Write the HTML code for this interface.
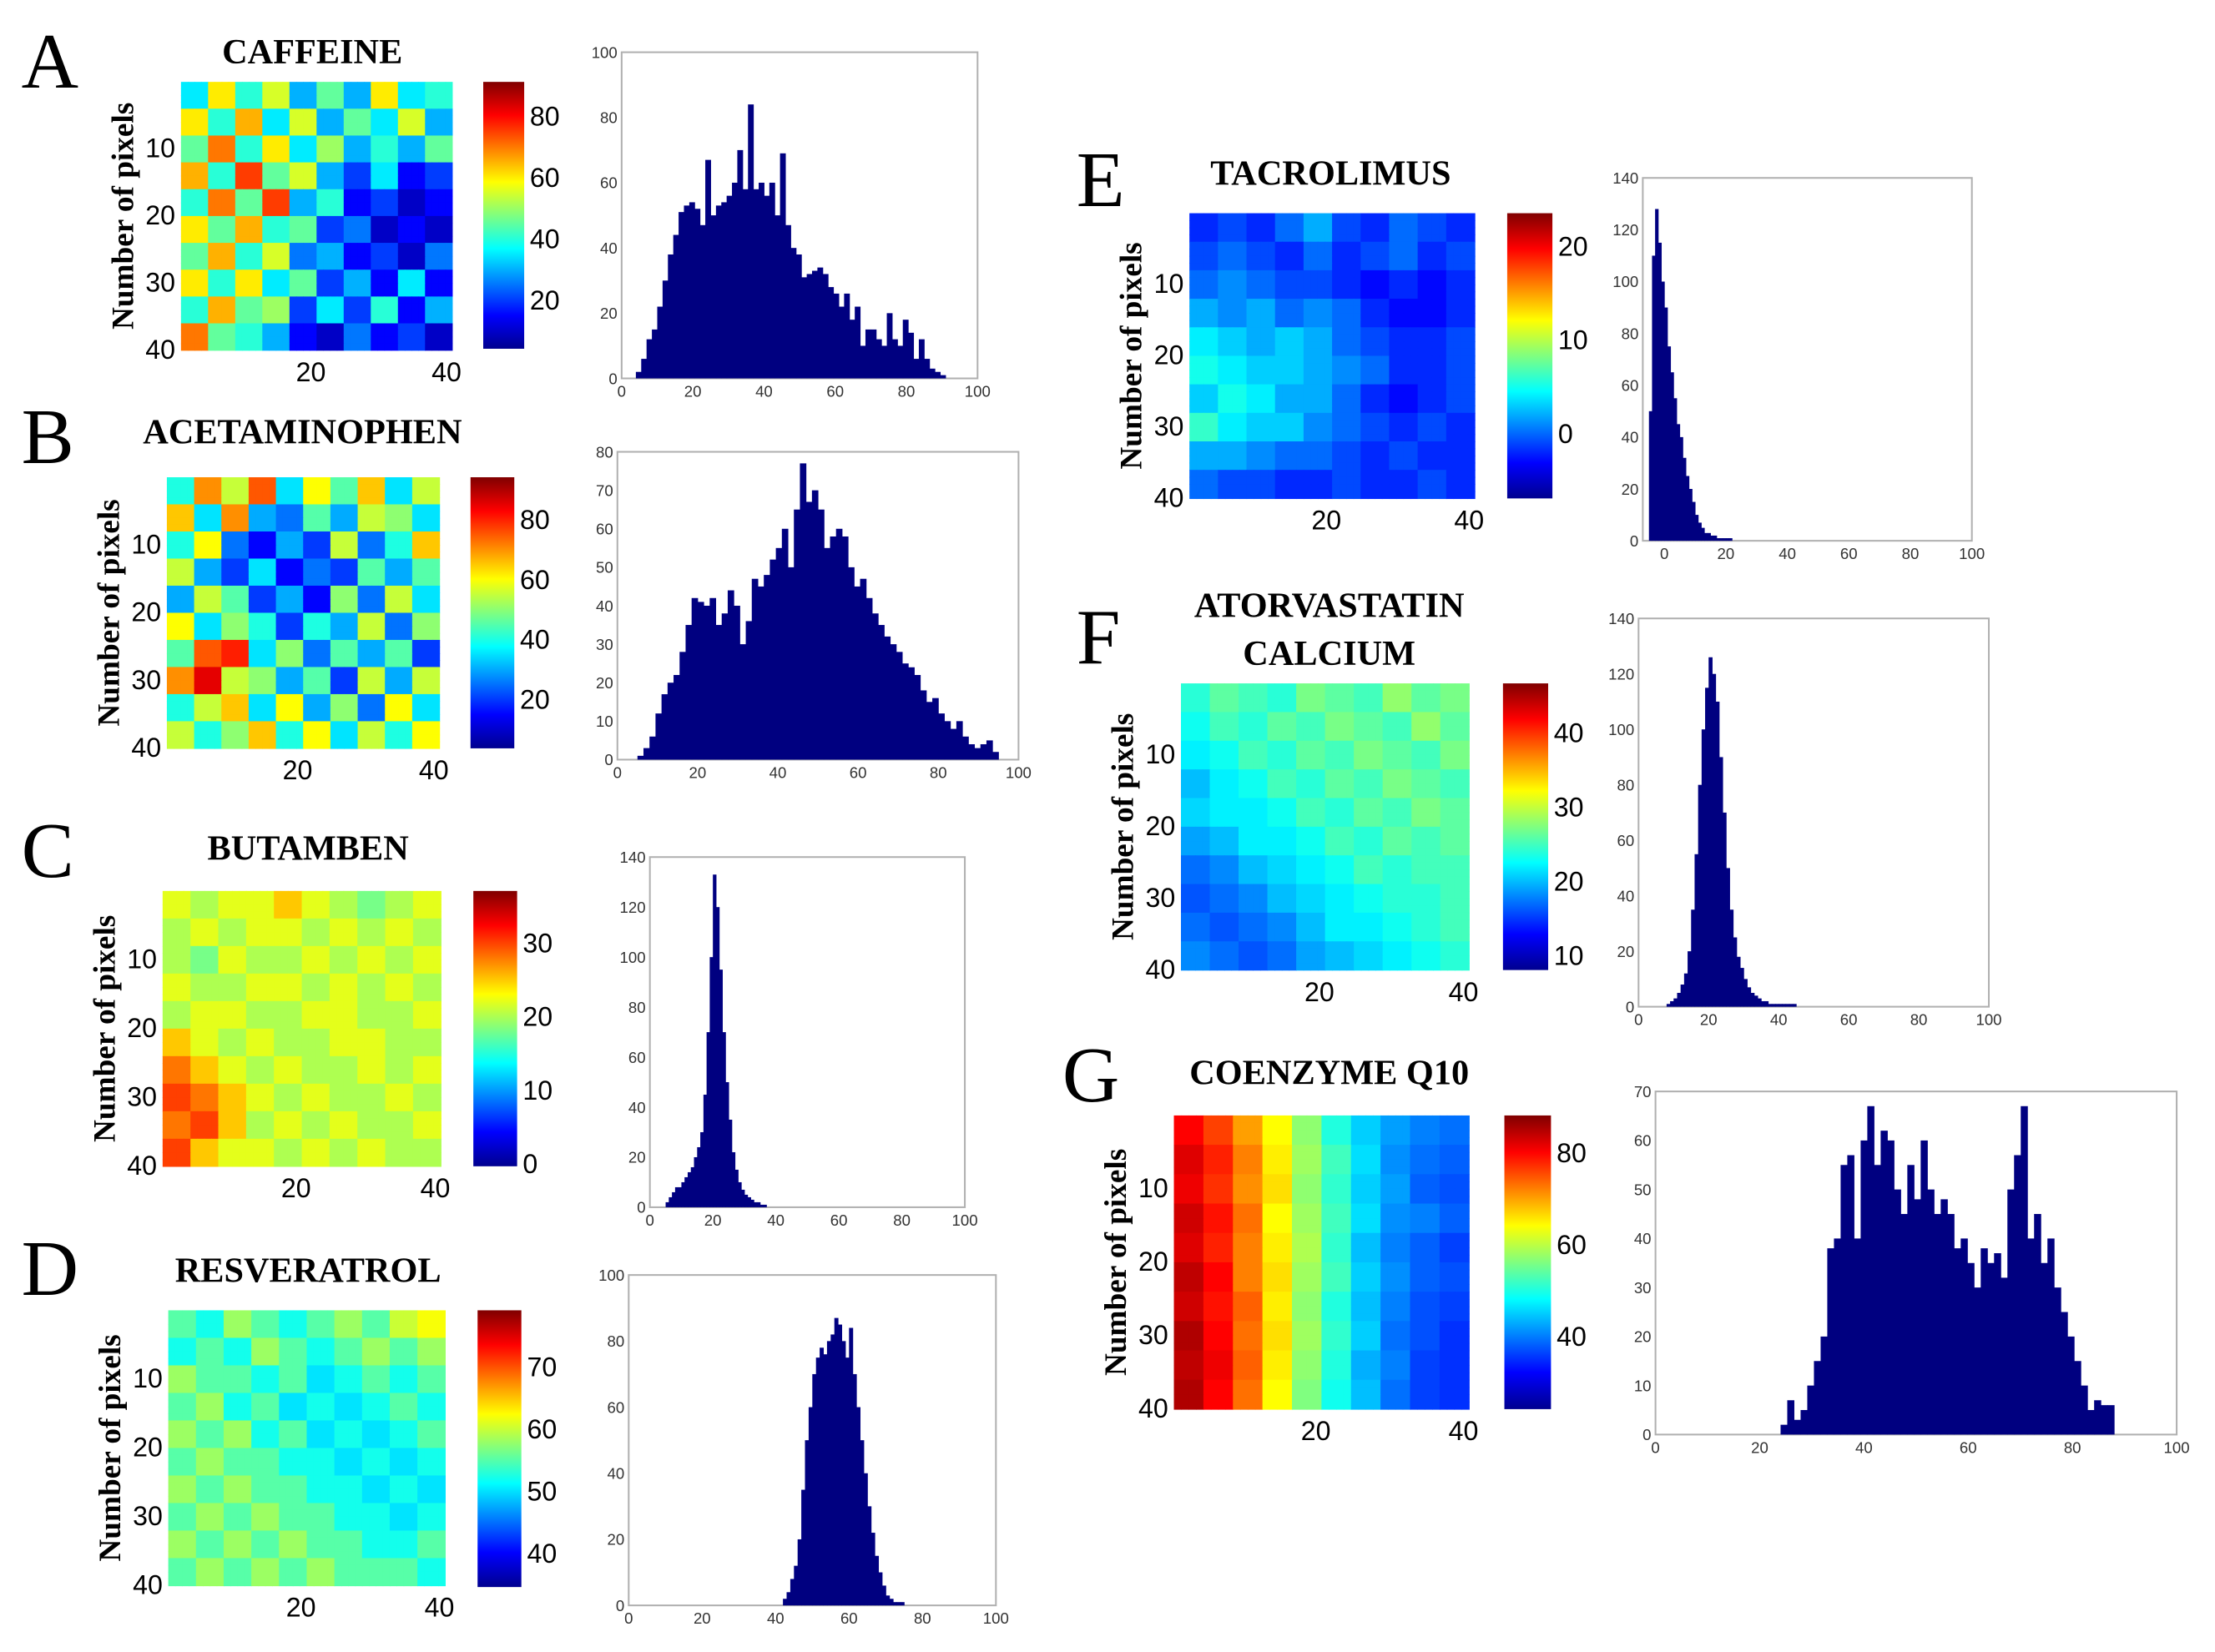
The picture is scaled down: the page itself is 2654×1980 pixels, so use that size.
<!DOCTYPE html>
<html><head><meta charset="utf-8"><style>
html,body{margin:0;padding:0;background:#fff;}
svg{display:block;}
</style></head><body>
<svg id="fig" xmlns="http://www.w3.org/2000/svg" width="2654" height="1980" viewBox="0 0 1568 1170">
<defs>
<linearGradient id="jet" x1="0" y1="1" x2="0" y2="0">
<stop offset="0" stop-color="#00008f"/><stop offset="0.125" stop-color="#0000ff"/><stop offset="0.375" stop-color="#00ffff"/><stop offset="0.625" stop-color="#ffff00"/><stop offset="0.875" stop-color="#ff0000"/><stop offset="1" stop-color="#800000"/>
</linearGradient>
</defs>
</svg>
<script>
// ---------- DATA ----------
const heatA=[[35,60,40,55,30,45,30,60,35,40],[60,40,65,35,55,30,45,35,55,30],[45,70,40,60,35,50,30,40,30,45],[65,40,75,45,55,30,20,35,15,20],[40,70,45,75,30,40,15,20,10,15],[60,45,65,40,45,20,25,10,15,10],[45,65,40,55,25,30,15,20,10,25],[60,40,60,35,45,20,30,15,35,15],[40,65,45,50,20,35,20,40,15,30],[70,45,40,30,15,10,25,15,20,10]];
const heatB=[[40,70,55,75,35,60,45,65,35,55],[65,35,70,30,25,45,30,55,50,35],[40,60,25,15,30,20,55,25,40,65],[55,30,20,35,15,25,20,45,30,45],[30,55,45,20,30,15,50,25,55,35],[60,35,50,40,20,40,30,55,25,50],[45,75,80,35,50,25,45,30,45,20],[70,85,55,50,30,45,20,55,30,55],[40,55,65,35,60,30,50,25,60,35],[55,40,50,65,40,60,35,55,40,60]];
const heatC=[[22,20,22,22,25,22,20,18,20,22],[20,22,20,22,22,20,22,20,22,20],[20,18,22,20,20,22,20,22,20,22],[22,20,20,22,22,20,22,20,22,20],[20,22,22,20,20,22,22,20,20,22],[25,22,20,22,20,20,22,22,20,20],[28,25,22,20,22,20,20,22,20,22],[30,28,25,22,20,22,20,20,22,20],[28,30,25,20,22,20,22,20,20,22],[30,25,22,22,20,22,20,22,20,20]];
const heatD=[[55,52,58,55,52,55,58,55,60,62],[52,55,52,58,55,52,55,58,55,58],[58,55,55,52,55,50,52,55,52,55],[55,58,52,55,50,52,50,52,55,52],[58,55,58,52,55,50,52,50,52,55],[55,58,55,55,52,52,50,52,50,52],[58,55,58,55,55,52,52,50,52,50],[55,58,55,58,55,55,52,52,50,52],[58,55,58,55,58,55,55,52,52,55],[55,58,55,58,55,58,55,55,55,52]];
const heatE=[[-2,-1,-2,0,2,-1,-2,0,-1,-2],[-1,0,-1,-2,0,-2,-1,0,-2,-1],[0,1,0,-1,-1,-2,-3,-2,-3,-2],[2,1,2,0,1,0,-2,-3,-3,-2],[4,3,2,3,2,0,-1,-2,-2,-1],[5,4,3,3,2,1,0,-2,-2,-1],[3,5,4,2,2,0,-2,-3,-2,-1],[6,4,3,3,1,0,-1,-2,-1,-2],[2,2,1,0,0,-1,-2,-1,-2,-2],[0,-1,-1,-2,-2,-1,-2,-2,-1,-2]];
const heatF=[[24,26,25,24,27,26,25,28,26,27],[23,25,24,26,25,27,26,25,28,26],[22,23,25,24,26,25,27,26,25,27],[20,22,23,25,24,26,25,27,26,25],[21,22,22,23,25,24,26,25,27,26],[19,20,22,22,23,25,24,26,25,26],[17,18,20,21,22,23,25,24,25,25],[16,17,18,20,21,22,23,24,24,25],[17,16,17,18,20,22,22,23,24,25],[18,17,16,17,19,20,21,22,23,24]];
const heatG=[[80,76,70,64,57,50,45,42,40,39],[82,78,72,65,58,52,46,41,39,38],[81,77,71,66,57,51,45,42,38,37],[83,79,73,64,58,52,46,41,40,38],[82,78,72,65,59,51,44,40,38,36],[84,80,72,66,58,52,45,41,38,37],[83,79,74,65,57,50,44,40,37,36],[85,80,73,66,58,51,45,39,37,35],[84,81,74,65,57,50,43,40,36,35],[85,80,73,64,56,49,44,39,36,35]];

const histA=[2,6,12,15,22,30,38,44,51,53,54,52,47,67,50,53,54,56,60,70,58,84,58,60,56,60,50,69,47,40,38,31,32,33,34,32,28,26,22,26,18,22,10,15,15,12,10,20,12,10,18,14,6,12,6,3,2,1];
const histB=[1,3,6,12,17,20,22,28,35,42,41,40,42,35,38,44,40,30,36,47,45,48,52,55,60,50,65,77,67,70,65,55,58,60,58,50,45,47,42,38,35,32,30,28,25,24,22,18,15,16,12,10,8,10,6,4,3,4,5,2];
const histC=[2,4,6,8,8,10,12,14,16,20,24,30,45,70,100,133,120,95,70,50,35,22,15,10,7,5,4,3,2,2,1,1];
const histD=[2,4,8,12,20,35,50,60,70,75,78,76,80,82,87,85,80,75,84,70,60,50,40,30,22,15,10,6,3,2,1,1,1];
const histE=[50,110,128,115,100,90,75,65,55,45,40,32,25,20,15,10,7,5,3,3,2,2,1,1,1,1,1];
const histF=[1,2,3,5,8,12,20,35,55,80,100,115,126,120,110,90,70,50,35,25,18,14,10,7,5,4,3,2,2,1,1,1,1,1,1,1,1];
const histG=[2,7,3,5,10,15,20,38,40,55,57,40,60,67,55,62,60,50,45,55,48,60,50,45,48,45,38,40,35,30,38,35,37,32,50,57,67,40,45,35,40,30,25,20,15,10,5,7,6,6];

const heatTicks=[10,20,30,40];
const heatXTicks=[20,40];
const histXTicks=[0,20,40,60,80,100];

// ---------- LAYOUT ----------
const NS="http://www.w3.org/2000/svg";
const svg=document.getElementById('fig');
function el(tag,attrs,parent,text){const e=document.createElementNS(NS,tag);for(const k in attrs)e.setAttribute(k,attrs[k]);if(text!==undefined)e.textContent=text;(parent||svg).appendChild(e);return e;}
function jet(v){v=Math.max(0,Math.min(1,v));const c=x=>Math.round(255*Math.max(0,Math.min(1,1.5-Math.abs(4*v-x))));return `rgb(${c(3)},${c(2)},${c(1)})`;}

const panels=[
 {id:'a',letter:'A',lx:15,ly:62,title:['CAFFEINE'],tx:221,ty:45,hm:[128,58,192,190],heat:heatA,cb:[342,58,29,189],vmin:4,vmax:91,cbt:[20,40,60,80],hist:histA,hx:[440,37,252,231],ymax:100,ystep:20,xmin:0,x0:4,bw:1.5},
 {id:'b',letter:'B',lx:15,ly:328,title:['ACETAMINOPHEN'],tx:214,ty:314,hm:[118,338,193,192],heat:heatB,cb:[333,338,31,192],vmin:3.5,vmax:94,cbt:[20,40,60,80],hist:histB,hx:[437,320,284,218],ymax:80,ystep:10,xmin:0,x0:5,bw:1.5},
 {id:'c',letter:'C',lx:15,ly:621,title:['BUTAMBEN'],tx:218,ty:609,hm:[115,631,197,195],heat:heatC,cb:[335,631,31,195],vmin:-0.4,vmax:37,cbt:[0,10,20,30],hist:histC,hx:[460,607,223,248],ymax:140,ystep:20,xmin:0,x0:5,bw:1},
 {id:'d',letter:'D',lx:15,ly:917,title:['RESVERATROL'],tx:218,ty:908,hm:[119,928,196,195],heat:heatD,cb:[338,928,31,196],vmin:34.5,vmax:79,cbt:[40,50,60,70],hist:histD,hx:[445,903,260,234],ymax:100,ystep:20,xmin:0,x0:42,bw:1},
 {id:'e',letter:'E',lx:762,ly:146,title:['TACROLIMUS'],tx:942,ty:131,hm:[842,151,202,202],heat:heatE,cb:[1067,151,32,202],vmin:-7,vmax:23.5,cbt:[0,10,20],hist:histE,hx:[1163,126,233,257],ymax:140,ystep:20,xmin:-7,x0:-5,bw:1},
 {id:'f',letter:'F',lx:762,ly:470,title:['ATORVASTATIN','CALCIUM'],tx:941,ty:437,hm:[836,484,204,203],heat:heatF,cb:[1064,484,32,203],vmin:8,vmax:46.6,cbt:[10,20,30,40],hist:histF,hx:[1160,438,248,275],ymax:140,ystep:20,xmin:0,x0:8,bw:1},
 {id:'g',letter:'G',lx:752,ly:780,title:['COENZYME Q10'],tx:941,ty:768,hm:[831,790,209,208],heat:heatG,cb:[1065,790,33,208],vmin:24,vmax:88,cbt:[40,60,80],hist:histG,hx:[1172,773,369,243],ymax:70,ystep:10,xmin:0,x0:24,bw:1.28}
];

const serif='"Liberation Serif", serif', sans='"Liberation Sans", sans-serif';

panels.forEach(p=>{
 const g=el('g',{});
 
 
 const L=el('text',{x:p.lx,y:p.ly,'font-family':serif,'font-size':56},g,p.letter);
 
 
 p.title.forEach((t,i)=>{
  const T=el('text',{x:p.tx,y:p.ty+i*34,'text-anchor':'middle','font-family':serif,'font-weight':'bold','font-size':25},g,t);
  
  
 });
 const [hx,hy,hw,hh]=p.hm;
 const hg=el('g',{},g);
 
 
 const n=40,cw=hw/n,ch=hh/n;
 for(let r=0;r<n;r++)for(let c=0;c<n;c++){
  const v=p.heat[Math.floor(r/4)][Math.floor(c/4)];
  const cell=el('rect',{x:hx+c*cw,y:hy+r*ch,width:cw+0.4,height:ch+0.4,fill:jet((v-p.vmin)/(p.vmax-p.vmin))},hg);
  
  
 }
 heatTicks.forEach(t=>{
  const tt=el('text',{x:hx-4,y:hy+t/40*hh+6,'text-anchor':'end','font-family':sans,'font-size':19},g,String(t));
  
  
 });
 heatXTicks.forEach(t=>{
  const tt=el('text',{x:hx+t/40*hw-4,y:hy+hh+22,'text-anchor':'middle','font-family':sans,'font-size':19},g,String(t));
  
  
 });
 const yl=el('text',{transform:`translate(${hx-34},${hy+hh/2}) rotate(-90)`,'text-anchor':'middle','font-family':serif,'font-weight':'bold','font-size':22},g,'Number of pixels');
 
 
 const [cx,cy,cwid,chh]=p.cb;
 const cb=el('rect',{x:cx,y:cy,width:cwid,height:chh,fill:'url(#jet)'},g);
 
 
 p.cbt.forEach(t=>{
  const ty=cy+chh-(t-p.vmin)/(p.vmax-p.vmin)*chh;
  const tt=el('text',{x:cx+cwid+4,y:ty+7,'font-family':sans,'font-size':19},g,String(t));
  
  
 });
 const [ax,ay,aw,ah]=p.hx;
 const hist=el('g',{},g);
 
 
 const sx=v=>ax+(v-p.xmin)/(100-p.xmin)*aw;
 const sy=v=>ay+ah-v/p.ymax*ah;
 const frame=el('rect',{x:ax,y:ay,width:aw,height:ah,fill:'#fff',stroke:'#b0b0b0','stroke-width':1.2},hist);
 
 
 p.hist.forEach((h,i)=>{
  const x1=sx(p.x0+i*p.bw),x2=sx(p.x0+(i+1)*p.bw);
  const b=el('rect',{x:x1,y:sy(h),width:x2-x1+0.3,height:sy(0)-sy(h),fill:'#000080'},hist);
  
  
 });
 for(let t=0;t<=p.ymax;t+=p.ystep){
  const tt=el('text',{x:ax-3,y:sy(t)+4,'text-anchor':'end','font-family':sans,'font-size':11,fill:'#333'},hist,String(t));
  
  
 }
 histXTicks.forEach(t=>{
  const tt=el('text',{x:sx(t),y:ay+ah+13,'text-anchor':'middle','font-family':sans,'font-size':11,fill:'#333'},hist,String(t));
  
  
 });
});
</script>
</body></html>
